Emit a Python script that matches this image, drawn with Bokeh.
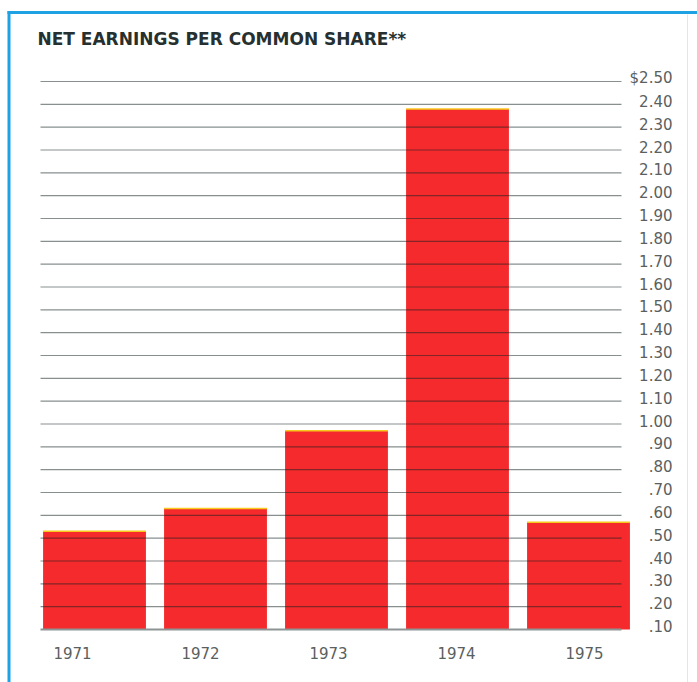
from bokeh.plotting import figure
from bokeh.models import Range1d
from bokeh.core.properties import value
from bokeh.embed import file_html
from bokeh.resources import INLINE

# ---- data ----
years = ["1971", "1972", "1973", "1974", "1975"]
earnings = [0.53, 0.63, 0.97, 2.38, 0.57]
tick_values = [round(0.10 + 0.10 * i, 2) for i in range(25)]
tick_labels = [".10", ".20", ".30", ".40", ".50", ".60", ".70", ".80", ".90",
               "1.00", "1.10", "1.20", "1.30", "1.40", "1.50", "1.60", "1.70",
               "1.80", "1.90", "2.00", "2.10", "2.20", "2.30", "2.40", "$2.50"]
title_text = "NET EARNINGS PER COMMON SHARE**"
baseline = 0.10

# ---- layout ----
W, H = 697, 682
X0, X1 = -0.7769, 4.9835
Y0, Y1 = -0.1321, 2.8548


def px_x(page_x):
    return X0 + page_x / W * (X1 - X0)


def px_y(page_y):
    return Y1 - page_y / H * (Y1 - Y0)


dy = (Y1 - Y0) / H  # data units per pixel

p = figure(width=W, height=H, x_range=Range1d(X0, X1), y_range=Range1d(Y0, Y1),
           x_axis_type=None, y_axis_type=None, toolbar_location=None,
           output_backend="svg", min_border=0, title=None)
p.outline_line_color = None
p.background_fill_color = "white"
p.border_fill_color = "white"

xs = list(range(len(years)))
bar_w = 0.85

# bars
p.vbar(x=xs, top=earnings, bottom=baseline, width=bar_w,
       fill_color="#f42a2c", line_color=None)
# thin yellow top edge
p.segment(x0=[x - bar_w / 2 for x in xs], x1=[x + bar_w / 2 for x in xs],
          y0=earnings, y1=earnings, line_color="#f7c81e", line_width=1.5)

# grid lines drawn over bars
gx0, gx1 = px_x(40), px_x(621)
p.segment(x0=[gx0] * (len(tick_values) - 1), x1=[gx1] * (len(tick_values) - 1),
          y0=tick_values[1:], y1=tick_values[1:],
          line_color="#102020", line_alpha=0.5, line_width=1.2)
p.segment(x0=[gx0], x1=[gx1], y0=[baseline], y1=[baseline],
          line_color="#8c9494", line_width=2)

# right-hand value labels
p.text(x=[px_x(672)] * len(tick_values), y=[v + 3.5 * dy for v in tick_values],
       text=tick_labels, text_align="right", text_baseline="middle",
       text_font=value("DejaVu Sans"), text_font_size="15px",
       text_color="#5a6060")

# year labels
p.text(x=[px_x(72 + 128 * i) for i in xs], y=[px_y(652)] * len(years),
       text=years, text_align="center", text_baseline="middle",
       text_font=value("DejaVu Sans"), text_font_size="15px",
       text_color="#5a6060")

# title
p.text(x=[px_x(37)], y=[px_y(38.5)], text=[title_text], text_align="left",
       text_baseline="middle", text_font=value("DejaVu Sans"),
       text_font_size="17px", text_font_style="bold", text_color="#263030")

# frame lines (blue border, faint right edge)
p.segment(x0=[px_x(7)], x1=[px_x(697)], y0=[px_y(12)], y1=[px_y(12)],
          line_color="#1ea2e4", line_width=3)
p.segment(x0=[px_x(8.5)], x1=[px_x(8.5)], y0=[px_y(10.5)], y1=[px_y(682)],
          line_color="#1ea2e4", line_width=3)
p.segment(x0=[px_x(687)], x1=[px_x(687)], y0=[px_y(14)], y1=[px_y(682)],
          line_color="#e2e6e6", line_width=1)

open("out.html", "w").write(file_html(p, INLINE))
